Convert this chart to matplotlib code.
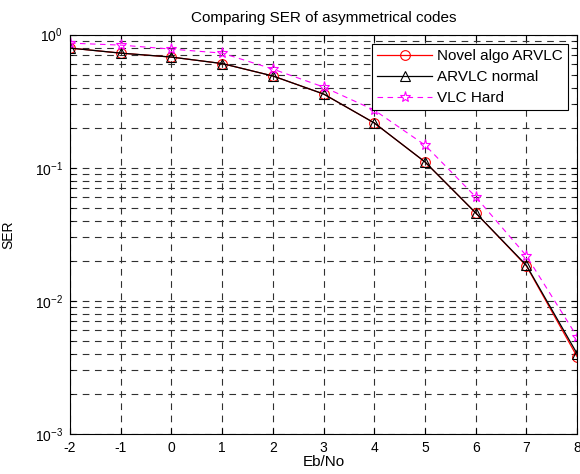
import matplotlib
matplotlib.use("Agg")
import matplotlib.pyplot as plt
import numpy as np

plt.rcParams['font.family'] = ['Liberation Sans', 'DejaVu Sans']
plt.rcParams['font.size'] = 10

# Eb/No values
ebno = [-2, -1, 0, 1, 2, 3, 4, 5, 6, 7, 8]

# SER curves
ser_novel = [0.792, 0.726, 0.678, 0.606, 0.489, 0.358, 0.217, 0.1106, 0.0458, 0.0183, 0.00381]
ser_arvlc = [0.792, 0.726, 0.678, 0.606, 0.489, 0.358, 0.217, 0.1106, 0.0458, 0.0185, 0.00401]
ser_vlc = [0.863, 0.834, 0.778, 0.726, 0.551, 0.404, 0.271, 0.148, 0.0604, 0.0218, 0.00538]

fig = plt.figure(figsize=(5.8, 4.74), dpi=100)
ax = fig.add_axes([0.1207, 0.0844, 0.8743, 0.8426])

ax.semilogy(ebno, ser_novel, '-o', color='red', lw=0.9, ms=7, mfc='none', mew=0.8,
            label='Novel algo ARVLC')
ax.semilogy(ebno, ser_arvlc, '-^', color='black', lw=0.9, ms=7, mfc='none', mew=0.8,
            label='ARVLC normal')
ax.semilogy(ebno, ser_vlc, '--*', color='magenta', lw=0.8, ms=8, mfc='none', mew=0.8,
            label='VLC Hard', dashes=(5, 4))

ax.set_xlim(-2, 8)
ax.set_ylim(1e-3, 1)
ax.set_xticks(ebno)
ax.set_xticklabels([str(v) for v in ebno])

# matlab style grid
ax.grid(True, which='major', ls=(0, (6, 5)), color='#303030', lw=0.8)
ax.grid(True, which='minor', axis='y', ls=(0, (6, 5)), color='#303030', lw=0.8)
ax.tick_params(which='both', direction='in', top=True, right=True, labelsize=10)
ax.tick_params(which='major', length=4, pad=5)
ax.tick_params(which='minor', length=2)
for s in ax.spines.values():
    s.set_linewidth(0.8)

ax.set_title('Comparing SER of asymmetrical codes', fontsize=11, pad=9)
ax.set_xlabel('Eb/No', fontsize=11, labelpad=0)
ax.set_ylabel('SER', fontsize=10, labelpad=14)

leg = ax.legend(loc='upper right', fontsize=11, fancybox=False, framealpha=1,
                edgecolor='black', handlelength=3.6, borderaxespad=0.6,
                borderpad=0.35, labelspacing=0.45, handletextpad=0.3)
leg.get_frame().set_linewidth(0.8)

fig.savefig('out.png', dpi=100)
